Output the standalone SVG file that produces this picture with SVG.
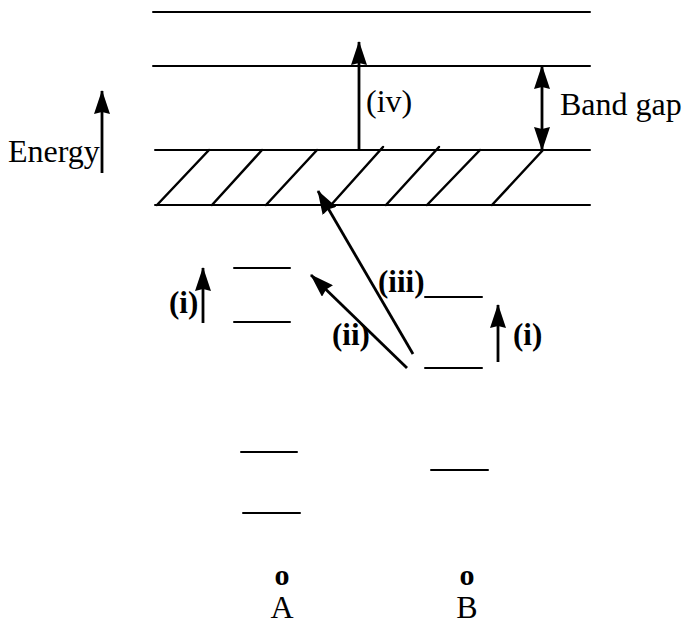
<svg xmlns="http://www.w3.org/2000/svg" width="688" height="625" viewBox="0 0 688 625">
<style>
.ln{stroke:#000;stroke-width:2;fill:none;stroke-linecap:round}
.ht{stroke:#000;stroke-width:2.5;fill:none;stroke-linecap:round}
.ar{stroke:#000;stroke-width:2.8;fill:none}
.t{font-family:"Liberation Serif","Times New Roman",serif;fill:#000}
.b{font-weight:bold}
</style>
<defs>
<marker id="ah" viewBox="0 0 24 16" refX="23" refY="8" markerWidth="24" markerHeight="16" markerUnits="userSpaceOnUse" orient="auto-start-reverse">
<path d="M0,0 L24,8 L0,16 L2,8 z" fill="#000"/>
</marker>
</defs>
<rect width="688" height="625" fill="#fff"/>
<g id="bands">
<line class="ln" x1="153" y1="12" x2="590" y2="12"/>
<line class="ln" x1="153" y1="66" x2="590" y2="66"/>
<line class="ln" x1="155" y1="150" x2="590" y2="150"/>
<line class="ln" x1="155" y1="205" x2="590" y2="205"/>
<g id="hatch">
<line class="ht" x1="157" y1="205" x2="209" y2="150"/>
<line class="ht" x1="212" y1="205" x2="262" y2="150"/>
<line class="ht" x1="266" y1="205" x2="317" y2="150"/>
<line class="ht" x1="331" y1="205" x2="383" y2="147"/>
<line class="ht" x1="386" y1="205" x2="439" y2="147"/>
<line class="ht" x1="427" y1="205" x2="480" y2="150"/>
<line class="ht" x1="492" y1="205" x2="543" y2="150"/>
</g>
</g>
<g id="levelsA">
<line class="ln" x1="234" y1="268" x2="290" y2="268"/>
<line class="ln" x1="234" y1="322" x2="290" y2="322"/>
<line class="ln" x1="241" y1="452" x2="297" y2="452"/>
<line class="ln" x1="243" y1="513" x2="300" y2="513"/>
</g>
<g id="levelsB">
<line class="ln" x1="425" y1="297" x2="482" y2="297"/>
<line class="ln" x1="425" y1="368" x2="482" y2="368"/>
<line class="ln" x1="431" y1="470" x2="488" y2="470"/>
</g>
<g id="connectors">
<line class="ar" x1="102" y1="173" x2="102" y2="91" marker-end="url(#ah)"/>
<line class="ar" x1="542" y1="66" x2="542" y2="150" marker-start="url(#ah)" marker-end="url(#ah)"/>
<line class="ar" x1="359" y1="150" x2="359" y2="42" marker-end="url(#ah)"/>
<line class="ar" x1="407" y1="368" x2="311" y2="275" marker-end="url(#ah)"/>
<line class="ar" x1="413" y1="354" x2="318" y2="191" marker-end="url(#ah)"/>
<line class="ar" x1="203" y1="323" x2="203" y2="268" marker-end="url(#ah)"/>
<line class="ar" x1="498" y1="362" x2="498" y2="305" marker-end="url(#ah)"/>
</g>
<g id="labels">
<text class="t" x="8" y="162" font-size="32">Energy</text>
<text class="t" x="560" y="115" font-size="32">Band gap</text>
<text class="t" x="366" y="112" font-size="32">(iv)</text>
<text class="t b" x="169" y="313" font-size="31">(i)</text>
<text class="t b" x="332" y="345" font-size="31">(ii)</text>
<text class="t b" x="378" y="292" font-size="31">(iii)</text>
<text class="t b" x="513" y="345" font-size="31">(i)</text>
</g>
<g id="atomA">
<text class="t b" x="282" y="585" font-size="30" text-anchor="middle">o</text>
<text class="t" x="282" y="618" font-size="32" text-anchor="middle">A</text>
</g>
<g id="atomB">
<text class="t b" x="467" y="585" font-size="30" text-anchor="middle">o</text>
<text class="t" x="467" y="618" font-size="32" text-anchor="middle">B</text>
</g>
</svg>
